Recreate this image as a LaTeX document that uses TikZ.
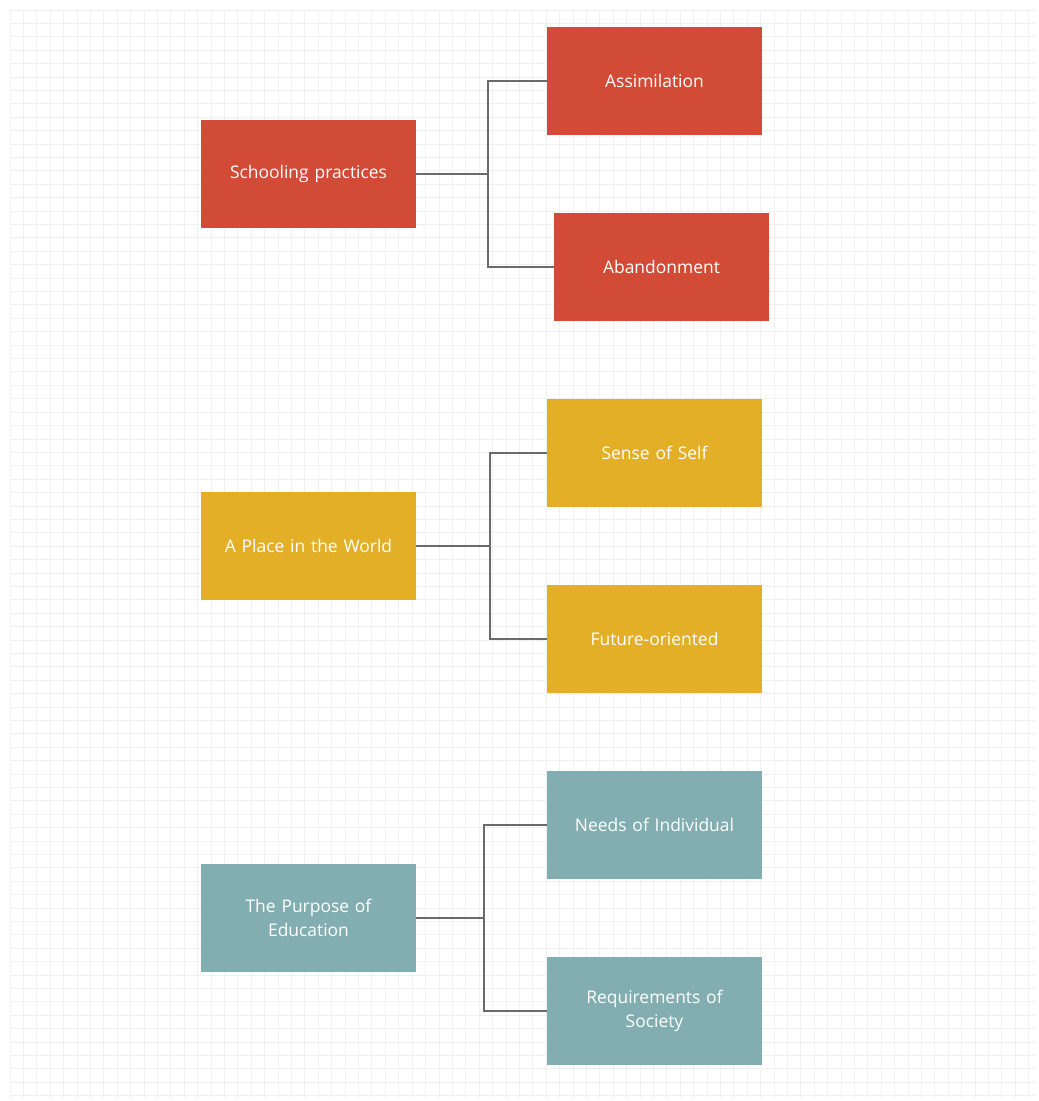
\documentclass[tikz,border=0pt]{standalone}
\usepackage{fontspec}
\setmainfont{Open Sans}
\usepackage{xcolor}
\usetikzlibrary{positioning}

\definecolor{schoolred}{HTML}{D24B36}
\definecolor{placeyellow}{HTML}{E3AF27}
\definecolor{purposeteal}{HTML}{82AEB1}
\definecolor{linkgray}{HTML}{6A6A6A}

\begin{document}
\begin{tikzpicture}[
    x=0.025cm, y=-0.025cm,
    topic/.style={minimum width=5.375cm, minimum height=2.7cm, align=center, text=white, font=\fontsize{12.4}{17.5}\selectfont, inner sep=0pt, text width=4.6cm},
    red/.style={topic, fill=schoolred},
    yellow/.style={topic, fill=placeyellow},
    teal/.style={topic, fill=purposeteal},
    link/.style={draw=linkgray, line width=0.9pt}
]
\useasboundingbox (0,0) rectangle (1039,1101);
% background grid
\begin{scope}
\clip (10,10) rectangle (1035,1097);
\draw[gray!12, line width=0.6pt, shift={(10,10)}, step=0.335cm] (0,0) grid (1030,1092);
\end{scope}
% schooling practices
\node[red] (school) at (308.5,174) {Schooling practices};
\node[red] (assim) at (654.5,81) {Assimilation};
\node[red] (aband) at (661.5,267) {Abandonment};
\coordinate (bus1) at (488,174);
\draw[link] (school) -- (bus1);
\draw[link] (bus1) |- (assim);
\draw[link] (bus1) |- (aband);
% a place in the world
\node[yellow] (place) at (308.5,546) {A Place in the World};
\node[yellow] (self) at (654.5,453) {Sense of Self};
\node[yellow] (future) at (654.5,639) {Future-oriented};
\coordinate (bus2) at (490,546);
\draw[link] (place) -- (bus2);
\draw[link] (bus2) |- (self);
\draw[link] (bus2) |- (future);
% the purpose of education
\node[teal] (purpose) at (308.5,918) {The Purpose of\\Education};
\node[teal] (needs) at (654.5,825) {Needs of Individual};
\node[teal] (society) at (654.5,1011) {Requirements of\\Society};
\coordinate (bus3) at (484,918);
\draw[link] (purpose) -- (bus3);
\draw[link] (bus3) |- (needs);
\draw[link] (bus3) |- (society);
\end{tikzpicture}
\end{document}
